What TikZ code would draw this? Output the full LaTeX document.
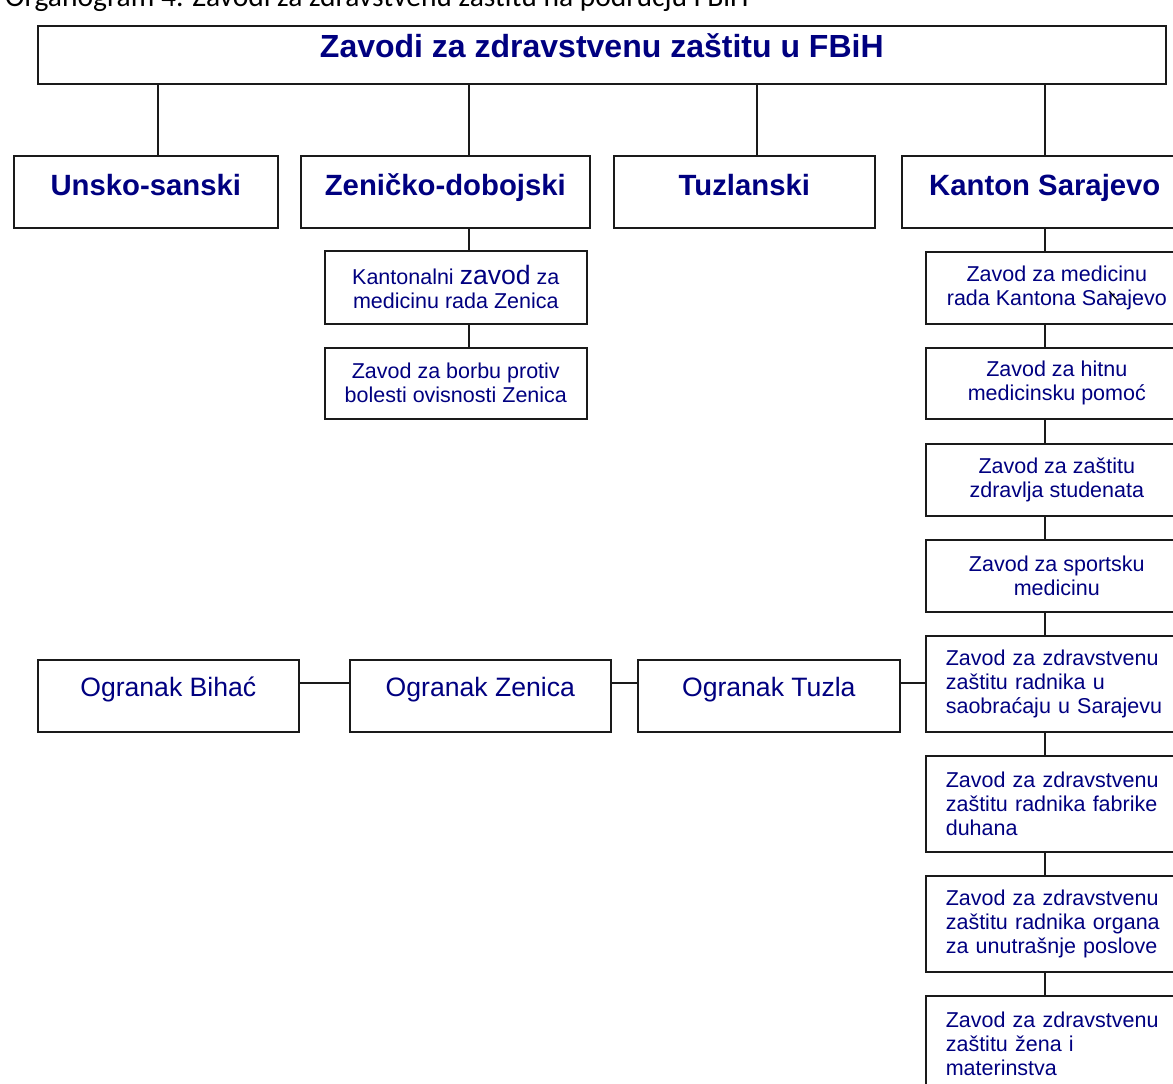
\documentclass[tikz,border=0pt]{standalone}
\usepackage{fontspec}
\setmainfont{Liberation Sans}
\newfontfamily\potpisFont{Carlito}
\usepackage{tikz}
\definecolor{tamnoPlava}{HTML}{000080}
\definecolor{okvirCrna}{HTML}{1A1A1A}

\begin{document}
\begin{tikzpicture}[x=1pt,y=-1pt,
  kutija/.style={draw=okvirCrna,line width=1.6pt,anchor=north west,inner sep=0pt,text=tamnoPlava},
  naslov/.style={kutija,font=\fontsize{32}{36}\selectfont\bfseries,text height=23pt,text depth=18pt,minimum height=58pt},
  kanton/.style={kutija,font=\fontsize{29.3}{33}\selectfont\bfseries,text height=21pt,text depth=14pt,minimum height=72pt},
  ogranak/.style={kutija,font=\fontsize{26.6}{30}\selectfont,text height=19pt,text depth=18pt,minimum height=72pt,minimum width=261pt},
  zavodC/.style={kutija,font=\fontsize{21.5}{24}\selectfont,align=center,minimum width=262pt},
  zavodL/.style={kutija,font=\fontsize{21.5}{24}\selectfont,align=left,text width=222pt,inner xsep=20pt,minimum height=96pt},
  veza/.style={draw=okvirCrna,line width=1.4pt}]
\useasboundingbox (0,0) rectangle (1173,1084);
\node[anchor=base west,inner sep=0pt,font=\potpisFont\fontsize{29.5}{32}\selectfont] (potpis) at (5,6) {Organogram 4. Zavodi za zdravstvenu zaštitu na području FBiH};
% vrh i kantoni
\node[naslov,minimum width=1128pt] (vrh) at (37,25) {Zavodi za zdravstvenu zaštitu u FBiH};
\node[kanton,minimum width=264pt] (unsko) at (13,155) {Unsko-sanski};
\node[kanton,minimum width=289pt] (zenicko) at (300,155) {Zeničko-dobojski};
\node[kanton,minimum width=261pt] (tuzlanski) at (613,155) {Tuzlanski};
\node[kanton,minimum width=286pt] (sarajevo) at (901,155) {Kanton Sarajevo};
% Zenica
\node[zavodC,minimum height=73pt] (kz1) at (324,250) {Kantonalni {\fontsize{26.6}{24}\selectfont zavod} za\\medicinu rada Zenica};
\node[zavodC,minimum height=71pt] (kz2) at (324,347) {Zavod za borbu protiv\\bolesti ovisnosti Zenica};
% Sarajevo
\node[zavodC,minimum height=72pt] (s1) at (925,251) {Zavod za medicinu\\rada Kantona Sarajevo};
\node[zavodC,minimum height=71pt] (s2) at (925,347) {Zavod za hitnu\\medicinsku pomoć};
\node[zavodC,minimum height=72pt] (s3) at (925,443) {Zavod za zaštitu\\zdravlja studenata};
\node[zavodC,minimum height=72pt] (s4) at (925,539) {Zavod za sportsku\\medicinu};
\node[zavodL] (s5) at (925,635) {Zavod za zdravstvenu\\zaštitu radnika u\\saobraćaju u Sarajevu};
\node[zavodL] (s6) at (925,755) {Zavod za zdravstvenu\\zaštitu radnika fabrike\\duhana};
\node[zavodL] (s7) at (925,875) {Zavod za zdravstvenu\\zaštitu radnika organa\\za unutrašnje poslove};
\node[zavodL] (s8) at (925,995) {Zavod za zdravstvenu\\zaštitu žena i\\materinstva};
% ogranci
\node[ogranak] (bihac) at (37,659) {Ogranak Bihać};
\node[ogranak] (ozenica) at (349,659) {Ogranak Zenica};
\node[ogranak,minimum width=262pt] (otuzla) at (637,659) {Ogranak Tuzla};
% stupci i red za veze
\coordinate (c1) at (158,0);
\coordinate (c2) at (469,0);
\coordinate (c3) at (757,0);
\coordinate (c4) at (1045,0);
\coordinate (red) at (0,683);
\draw[veza] (vrh.south -| c1) -- (unsko.north -| c1);
\draw[veza] (vrh.south -| c2) -- (zenicko.north -| c2);
\draw[veza] (vrh.south -| c3) -- (tuzlanski.north -| c3);
\draw[veza] (vrh.south -| c4) -- (sarajevo.north -| c4);
\draw[veza] (zenicko.south -| c2) -- (kz1.north -| c2);
\draw[veza] (kz1.south -| c2) -- (kz2.north -| c2);
\draw[veza] (sarajevo.south -| c4) -- (s1.north -| c4);
\foreach \a/\b in {s1/s2,s2/s3,s3/s4,s4/s5,s5/s6,s6/s7,s7/s8}
  \draw[veza] (\a.south -| c4) -- (\b.north -| c4);
\draw[veza] (bihac.east |- red) -- (ozenica.west |- red);
\draw[veza] (ozenica.east |- red) -- (otuzla.west |- red);
\draw[veza] (otuzla.east |- red) -- (s5.west |- red);
\draw[line width=1.2pt] (1109,291) -- (1117,300);
\end{tikzpicture}
\end{document}
